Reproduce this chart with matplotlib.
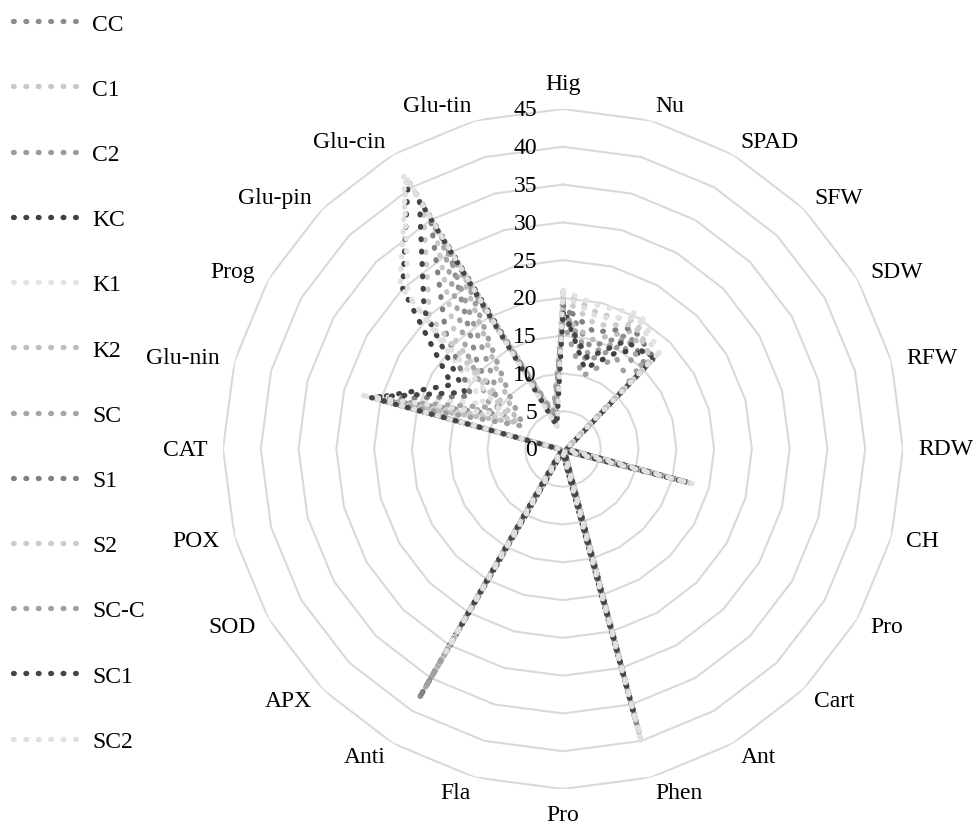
import numpy as np
import matplotlib.pyplot as plt

plt.rcParams['font.family'] = ['Liberation Serif', 'DejaVu Serif']

categories = ["Hig", "Nu", "SPAD", "SFW", "SDW", "RFW", "RDW", "CH", "Pro", "Cart",
              "Ant", "Phen", "Pro", "Fla", "Anti", "APX", "SOD", "POX", "CAT",
              "Glu-nin", "Prog", "Glu-pin", "Glu-cin", "Glu-tin"]

series_names = ["CC", "C1", "C2", "KC", "K1", "K2", "SC", "S1", "S2", "SC-C", "SC1", "SC2"]
series_colors = ["#8c8c8c", "#c8c8c8", "#9b9b9b", "#404040", "#e3e3e3", "#bdbdbd",
                 "#a5a5a5", "#808080", "#cccccc", "#a0a0a0", "#454545", "#e0e0e0"]

radial_ticks = [0, 5, 10, 15, 20, 25, 30, 35, 40, 45]

cc   = [19.5, 14.0, 17.5, 15.5, 1.2, 0.6, 0.5, 16.5, 0.8, 0.4, 0.5, 39.0, 0.6, 0.5, 38.5, 0.3, 0.4, 0.3, 0.5, 25.0, 9.0, 16.0, 30.0, 3.5]
c1   = [20.8, 18.5, 19.5, 16.5, 1.0, 0.5, 0.4, 17.0, 0.6, 0.3, 0.4, 39.5, 0.5, 0.4, 33.0, 0.3, 0.3, 0.3, 0.4, 24.0, 7.0, 20.0, 34.0, 4.0]
c2   = [18.0, 12.0, 16.0, 14.0, 1.1, 0.6, 0.5, 16.0, 0.7, 0.4, 0.5, 38.5, 0.6, 0.5, 36.0, 0.3, 0.3, 0.3, 0.5, 23.0, 10.0, 13.0, 31.0, 4.5]
kc   = [19.0, 11.0, 15.0, 17.5, 1.3, 0.7, 0.5, 17.5, 0.7, 0.4, 0.5, 37.5, 0.6, 0.5, 30.0, 0.4, 0.4, 0.3, 0.5, 26.0, 17.0, 30.0, 41.0, 4.0]
k1   = [21.0, 19.5, 20.6, 18.0, 1.0, 0.5, 0.4, 18.0, 0.6, 0.3, 0.4, 40.0, 0.5, 0.4, 32.0, 0.3, 0.3, 0.3, 0.4, 27.4, 12.0, 29.0, 42.2, 3.0]
k2   = [17.5, 15.0, 18.0, 16.0, 1.1, 0.6, 0.5, 16.8, 0.7, 0.4, 0.5, 38.0, 0.6, 0.5, 35.0, 0.3, 0.3, 0.3, 0.5, 22.0, 7.0, 11.0, 27.0, 5.0]
sc   = [18.5, 13.0, 17.0, 15.0, 1.2, 0.6, 0.5, 16.2, 0.7, 0.4, 0.5, 38.8, 0.6, 0.5, 37.0, 0.3, 0.4, 0.3, 0.5, 24.5, 11.0, 18.0, 32.0, 4.2]
s1   = [19.0, 16.0, 18.5, 17.0, 1.2, 0.6, 0.5, 17.2, 0.7, 0.4, 0.5, 37.8, 0.6, 0.5, 38.0, 0.3, 0.4, 0.3, 0.5, 25.5, 14.0, 22.0, 35.0, 3.8]
s2   = [20.0, 17.0, 19.0, 16.5, 1.0, 0.5, 0.4, 17.5, 0.6, 0.3, 0.4, 38.7, 0.5, 0.4, 34.0, 0.3, 0.3, 0.3, 0.4, 23.5, 8.0, 25.0, 37.0, 4.6]
sc_c = [17.0, 10.0, 14.0, 12.5, 1.1, 0.6, 0.5, 15.5, 0.7, 0.4, 0.5, 37.0, 0.6, 0.5, 36.5, 0.3, 0.3, 0.3, 0.5, 22.5, 6.0, 10.0, 25.0, 5.0]
sc1  = [18.0, 12.5, 16.5, 17.0, 1.3, 0.7, 0.5, 17.0, 0.7, 0.4, 0.5, 36.5, 0.6, 0.5, 28.0, 0.4, 0.4, 0.3, 0.5, 26.5, 15.0, 26.0, 38.0, 3.2]
sc2  = [20.5, 18.0, 20.0, 17.5, 1.0, 0.5, 0.4, 17.9, 0.6, 0.3, 0.4, 40.0, 0.5, 0.4, 31.0, 0.3, 0.3, 0.3, 0.4, 27.0, 9.0, 30.5, 41.5, 3.0]

series_values = [cc, c1, c2, kc, k1, k2, sc, s1, s2, sc_c, sc1, sc2]

W, H, DPI = 976, 829, 100
fig = plt.figure(figsize=(W / DPI, H / DPI), dpi=DPI)

# polar axes: centre and radius in pixels
cx, cy, rad = 563, 450, 340
ax = fig.add_axes([(cx - rad) / W, (H - cy - rad) / H, 2 * rad / W, 2 * rad / H],
                  projection='polar')
ax.set_theta_zero_location('N')
ax.set_theta_direction(-1)
ax.set_ylim(0, 45)
ax.grid(False)
ax.spines['polar'].set_visible(False)
ax.set_xticks([])
ax.set_yticks([])
ax.patch.set_alpha(0)

n = len(categories)
theta = np.arange(n) * 2 * np.pi / n
theta_closed = np.append(theta, theta[0])

# polygonal gridlines
for r in radial_ticks[1:]:
    ax.plot(theta_closed, [r] * (n + 1), color="#d9d9d9", lw=1.5, zorder=1)

# radial value labels along the top axis
for r in radial_ticks:
    ax.annotate(str(r), xy=(0, r), xytext=(-26, -1), textcoords='offset pixels',
                ha='right', va='center', fontsize=17, color='black', zorder=5)

# category labels around the outside
label_r = 47.0
for t, lab in zip(theta, categories):
    s, c = np.sin(t), np.cos(t)
    ha = 'left' if s > 0.01 else ('right' if s < -0.01 else 'center')
    if abs(s) < 0.01:
        va = 'bottom' if c > 0 else 'top'
    else:
        va = 'center'
    ax.text(t, label_r, lab, ha=ha, va=va, fontsize=17, color='black')

# data series as round-dotted lines
for name, vals, col in zip(series_names, series_values, series_colors):
    v = np.append(vals, vals[0])
    ax.plot(theta_closed, v, color=col, lw=3.8, linestyle=(0, (0.15, 2.2)),
            dash_capstyle='round', solid_capstyle='round', label=name, zorder=3)

handles, labels = ax.get_legend_handles_labels()
fig.legend(handles, labels, loc='upper left', bbox_to_anchor=(13 / W, 1 - 14 / H),
           frameon=False, fontsize=17, handlelength=2.97, handletextpad=0.38,
           labelspacing=1.85, borderpad=0, borderaxespad=0)

fig.savefig("out.png", dpi=DPI)
